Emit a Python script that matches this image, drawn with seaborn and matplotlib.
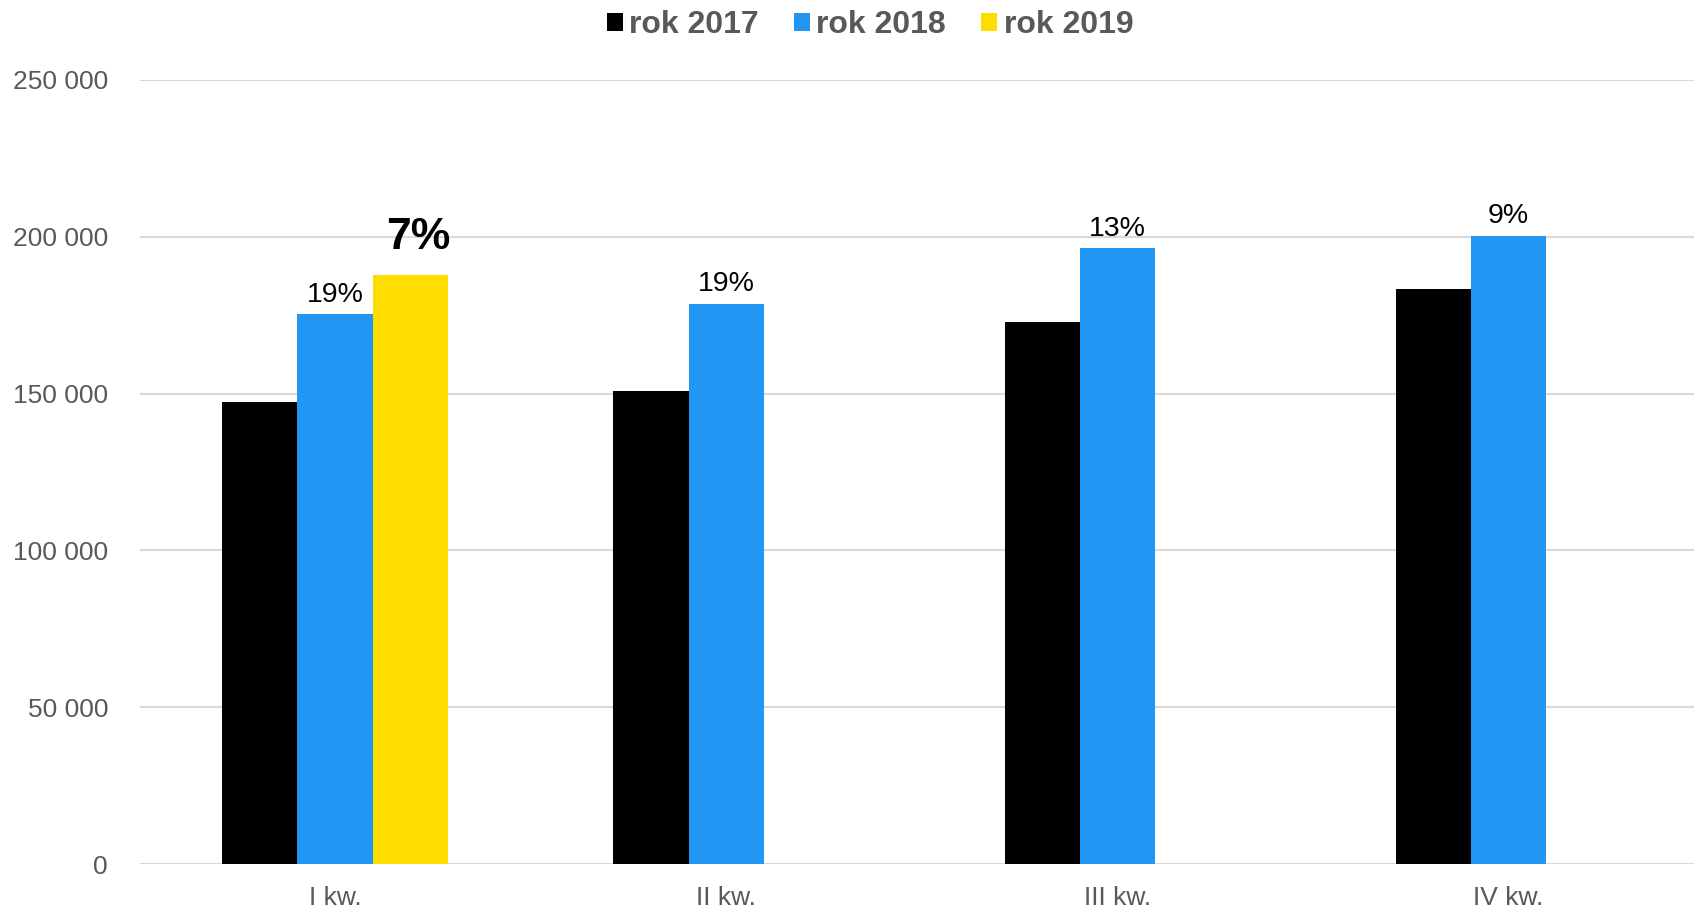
import numpy as np
import pandas as pd
import matplotlib
matplotlib.use("Agg")
import matplotlib.pyplot as plt
import seaborn as sns
from matplotlib.patches import Patch

quarters = ["I kw.", "II kw.", "III kw.", "IV kw."]
years = ["rok 2017", "rok 2018", "rok 2019"]
v2017 = [147400, 150800, 172900, 183500]
v2018 = [175300, 178700, 196300, 200400]
v2019 = [187700, np.nan, np.nan, np.nan]
lab2018 = ["19%", "19%", "13%", "9%"]
lab2019 = ["7%", None, None, None]
colors = ["#000000", "#2296F3", "#FFDD00"]
yticks = [0, 50000, 100000, 150000, 200000, 250000]

sns.set_theme(style="white")
plt.rcParams["font.family"] = ["Liberation Sans", "DejaVu Sans"]

rows = []
for y, vals in zip(years, [v2017, v2018, v2019]):
    for q, v in zip(quarters, vals):
        rows.append({"kw": q, "rok": y, "val": v})
df = pd.DataFrame(rows)

W, H = 1694, 908
fig = plt.figure(figsize=(W / 100, H / 100), dpi=100)
ax = fig.add_axes([140 / W, 44 / H, (W - 140) / W, 784 / H])

sns.barplot(data=df, x="kw", y="val", hue="rok", order=quarters, hue_order=years,
            palette=colors, saturation=1, width=0.576, linewidth=0, ax=ax,
            legend=False, errorbar=None)

ax.set_xlim(-0.4986, 3.475)
ax.set_ylim(0, 250000)
ax.set_yticks(yticks)
ax.set_yticklabels([f"{t:,}".replace(",", " ") for t in yticks])
ax.set_xlabel("")
ax.set_ylabel("")
for s in ax.spines.values():
    s.set_visible(False)
ax.yaxis.grid(True, color="#D9D9D9", linewidth=1.5)
ax.set_axisbelow(True)
ax.tick_params(axis="y", length=0, pad=23, labelsize=19, labelcolor="#595959")
ax.tick_params(axis="x", length=0, pad=16, labelsize=19, labelcolor="#595959")

cont2018 = ax.containers[1]
for bar, lab in zip(cont2018, lab2018):
    if lab:
        ax.annotate(lab, (bar.get_x() + bar.get_width() / 2, bar.get_height()),
                    xytext=(0, 9), textcoords="offset points", ha="center",
                    va="baseline", fontsize=20.5, color="black")
cont2019 = ax.containers[2]
for bar, lab in zip(cont2019, lab2019):
    if lab and not np.isnan(bar.get_height()):
        ax.annotate(lab, (bar.get_x() + bar.get_width() / 2, bar.get_height()),
                    xytext=(6, 19), textcoords="offset points", ha="center",
                    va="baseline", fontsize=32, fontweight="bold", color="black")

handles = [Patch(facecolor=c, edgecolor="none") for c in colors]
leg = fig.legend(handles, years, loc="center", bbox_to_anchor=(870 / W, 1 - 25 / H),
                 ncol=3, frameon=False, handlelength=0.5, handleheight=0.5,
                 handletextpad=0.2, columnspacing=1.1,
                 prop={"size": 23, "weight": "bold"})
for t in leg.get_texts():
    t.set_color("#595959")

fig.savefig("out.png", dpi=100)
